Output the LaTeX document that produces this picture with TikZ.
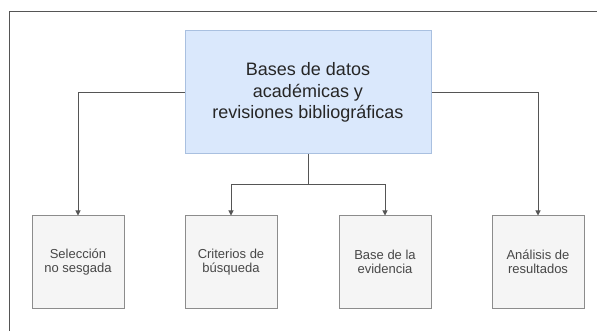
\documentclass[tikz,border=0pt]{standalone}
\usepackage{fontspec}
\setmainfont{Liberation Sans}
\usetikzlibrary{arrows.meta}
\definecolor{topfill}{HTML}{DAE8FC}
\definecolor{topline}{HTML}{A9C0E0}
\definecolor{boxfill}{HTML}{F5F5F5}
\definecolor{boxline}{HTML}{8C8C8C}
\definecolor{wire}{HTML}{555555}
\begin{document}
\begin{tikzpicture}[x=1pt,y=-1pt,
		topbox/.style={draw=topline,fill=topfill,line width=1pt,minimum width=246pt,minimum height=123pt,align=center,text=black!85,font=\fontsize{18}{21.5}\selectfont},
		subbox/.style={draw=boxline,fill=boxfill,line width=1pt,minimum width=92pt,minimum height=92pt,align=center,text=black!72,font=\fontsize{13}{14.5}\selectfont},
		wireline/.style={draw=wire,line width=1pt,-{Triangle[width=5pt,length=5pt]}}]

		\useasboundingbox (0,0) rectangle (597,331);
		\begin{scope}
			\clip (0,0) rectangle (597,331);
			\draw[wire,line width=1pt] (9,345) -- (9,12) -- (610,12);
		\end{scope}

		\node[topbox] (db) at (308,92.5) {Bases de datos\\académicas y\\revisiones bibliográficas};

		\node[subbox] (sel) at (78,262) {Selección\\no sesgada};
		\node[subbox] (crit) at (231,262) {Criterios de\\búsqueda};
		\node[subbox] (evid) at (385,262) {Base de la\\evidencia};
		\node[subbox] (anal) at (538,262) {Análisis de\\resultados};

		\coordinate (split) at (308,185);

		\foreach \source/\dest in {db.west/sel, db.east/anal}
		\draw[wireline] (\source) -| (\dest.north);

		\draw[draw=wire,line width=1pt] (db.south) -- (split);
		\foreach \dest in {crit, evid}
		\draw[wireline] (split) -| (\dest.north);

	\end{tikzpicture}
\end{document}
